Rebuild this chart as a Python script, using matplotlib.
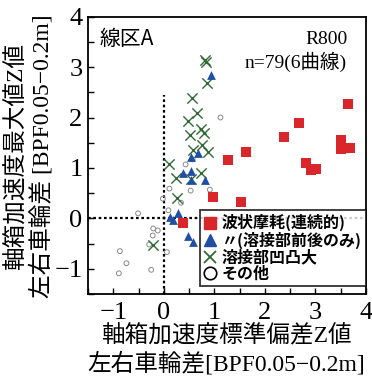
import matplotlib
matplotlib.use('Agg')
import matplotlib.pyplot as plt
from matplotlib.lines import Line2D

# ---- data ----
# 波状摩耗(連続的)
wave_x = [3.65, 2.67, 2.37, 3.50, 3.51, 3.68, 1.63, 1.27, 2.81, 2.91, 3.01, 0.97, 1.53, 0.38]
wave_y = [2.26, 1.89, 1.62, 1.55, 1.37, 1.40, 1.31, 1.15, 1.10, 0.95, 0.98, 0.42, 0.32, -0.09]
# 〃(溶接部前後のみ)
weld_wave_x = [0.94, 0.53, 0.67, 0.37, 0.53, 0.81, 0.28, 0.13, 0.19, 0.48, 0.57, 0.53]
weld_wave_y = [2.85, 1.21, 1.29, 0.90, 0.94, 0.77, 0.11, 0.03, -0.03, -0.35, -0.47, 0.77]
# 溶接部凹凸大
weld_x = [0.81, 0.83, 0.85, 0.56, 0.65, 0.47, 0.52, 0.74, 0.79, 0.58, 0.76, 0.88,
          0.11, 0.24, 0.74, 0.53, 0.26, -0.21]
weld_y = [3.15, 3.10, 2.69, 2.38, 2.08, 1.93, 1.66, 1.78, 1.70, 1.35, 1.45, 1.32,
          1.08, 0.80, 0.90, 0.78, 0.40, -0.52]
# その他
other_x = [1.12, 0.43, 0.57, 0.11, 0.53, 0.91, -0.02, 0.34, 0.09, -0.51, -0.21, -0.12,
           -0.22, -0.29, 0.06, -0.87, -0.74, -0.89, -0.25]
other_y = [2.00, 1.07, 1.17, 0.59, 0.55, 0.57, 0.39, 0.31, 0.16, 0.10, -0.20, -0.24,
           -0.34, -0.52, -0.67, -0.65, -0.89, -1.09, -1.02]

labels = ['波状摩耗(連続的)', '〃(溶接部前後のみ)', '溶接部凹凸大', 'その他']
ticks = [-1, 0, 1, 2, 3, 4]

serif_jp = ['Liberation Serif', 'Noto Sans CJK JP']
gothic = ['Noto Sans CJK JP', 'DejaVu Sans']

fig = plt.figure(figsize=(3.72, 3.77), dpi=100)
ax = fig.add_axes([0.2366, 0.2202, 0.7474, 0.7355])

# reference lines
ax.plot([0, 0], [-1.5, 2.45], color='black', lw=1.6, ls=(0, (1.2, 1.2)), zorder=1)
ax.plot([-1.5, 4], [0, 0], color='black', lw=1.6, ls=(0, (1.2, 1.2)), zorder=1)

ax.scatter(other_x, other_y, s=12, facecolors='none', edgecolors='#8a8a8a', linewidths=0.7, zorder=2)
ax.scatter(weld_x, weld_y, s=55, marker='x', color='#2f6a34', linewidths=1.0, zorder=3)
ax.scatter(weld_wave_x, weld_wave_y, s=40, marker='^', color='#1f4ea3', linewidths=0, zorder=4)
ax.scatter(wave_x, wave_y, s=42, marker='s', color='#d8262a', linewidths=0, zorder=5)

ax.set_xlim(-1.5, 4)
ax.set_ylim(-1.5, 4)
ax.set_xticks(ticks)
ax.set_yticks(ticks)
ax.set_xticks([-1.5 + 0.5 * i for i in range(12)], minor=True)
ax.set_yticks([-1.5 + 0.5 * i for i in range(12)], minor=True)
ax.set_xticklabels([str(t).replace('-', '−') for t in ticks], family=serif_jp, fontsize=19)
ax.set_yticklabels([str(t).replace('-', '−') for t in ticks], family=serif_jp, fontsize=19)
ax.tick_params(which='both', direction='in', length=4, width=1.0)
ax.tick_params(axis='y', pad=4)
ax.tick_params(axis='x', pad=6)
for s in ax.spines.values():
    s.set_linewidth(1.3)

# annotations
ax.text(0.043, 0.92, '線区A', transform=ax.transAxes, family=gothic, fontsize=15,
        va='center', ha='left')
ax.text(0.932, 0.916, 'R800', transform=ax.transAxes, family=serif_jp, fontsize=14,
        va='center', ha='right')
ax.text(0.932, 0.837, 'n=79(6曲線)', transform=ax.transAxes, family=serif_jp, fontsize=14,
        va='center', ha='right')

# legend
handles = [
    Line2D([], [], ls='none', marker='s', ms=9, color='#d8262a'),
    Line2D([], [], ls='none', marker='^', ms=9, color='#1f4ea3'),
    Line2D([], [], ls='none', marker='x', ms=8, mew=1.3, color='#2f6a34'),
    Line2D([], [], ls='none', marker='o', ms=9, mfc='none', mec='black', mew=1.2),
]
leg = ax.legend(handles, labels, loc='lower right', bbox_to_anchor=(1.0, 0.029),
                borderaxespad=0, frameon=True, fancybox=False, handlelength=0.8,
                handletextpad=0.3, labelspacing=0.02, borderpad=0.28,
                prop={'family': gothic, 'weight': 'bold', 'size': 11.5})
leg.get_frame().set_edgecolor('black')
leg.get_frame().set_linewidth(1.3)
leg.set_zorder(10)

# axis labels
fig.text(226 / 372, 1 - 336 / 377, '軸箱加速度標準偏差Z値', family=serif_jp, fontsize=17,
         ha='center', va='center')
fig.text(226 / 372, 1 - 364 / 377, '左右車輪差[BPF0.05−0.2m]', family=serif_jp, fontsize=17,
         ha='center', va='center')
fig.text(17 / 372, 1 - 156 / 377, '軸箱加速度最大値Z値', family=serif_jp, fontsize=17,
         ha='center', va='center', rotation=90)
fig.text(42 / 372, 1 - 156 / 377, '左右車輪差 [BPF0.05−0.2m]', family=serif_jp, fontsize=17,
         ha='center', va='center', rotation=90)

fig.savefig('out.png', dpi=100)
